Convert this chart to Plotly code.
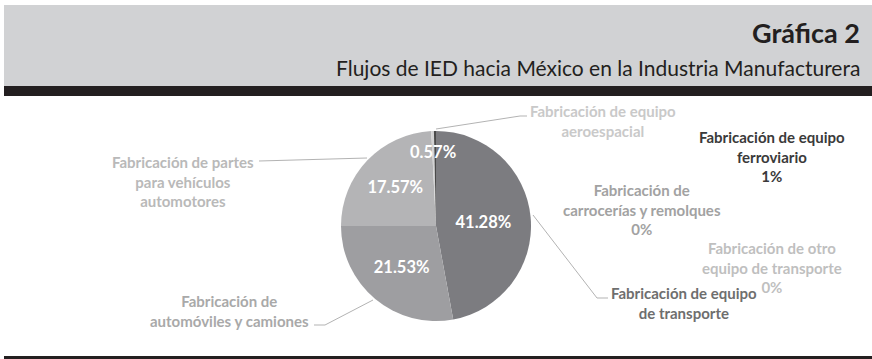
import plotly.graph_objects as go

W, H = 872, 359

# ---- data ----
categories = [
    "Fabricación de equipo de transporte",
    "Fabricación de automóviles y camiones",
    "Fabricación de partes para vehículos automotores",
    "Fabricación de equipo aeroespacial",
    "Fabricación de equipo ferroviario",
    "Fabricación de carrocerías y remolques",
    "Fabricación de otro equipo de transporte",
]
# slice sizes as drawn in the picture (angles), and the printed labels
drawn_share = [47.1, 27.9, 24.2, 0.45, 0.35, 0.0, 0.0]
label_pct = ["41.28%", "21.53%", "17.57%", "0.57%", "1%", "0%", "0%"]
slice_colors = ["#7c7c80", "#9e9ea1", "#b4b4b6", "#d2d2d3", "#4a4a4a", "#a4a4a6", "#c4c4c6"]
label_colors = ["#6e6e6e", "#a9a9a9", "#b9b9b9", "#c9c9c9", "#3a3a3a", "#a2a2a2", "#bfbfbf"]

title = "Gráfica 2"
subtitle = "Flujos de IED hacia México en la Industria Manufacturera"


def px(x):
    return x / W


def py(y):
    return 1 - y / H


cx, cy, r = 436, 226, 95
inside_text = [t if s > 5 else "" for t, s in zip(label_pct, drawn_share)]

fig = go.Figure(go.Pie(
    labels=categories,
    values=drawn_share,
    text=inside_text,
    texttemplate="%{text}",
    textposition="inside",
    insidetextorientation="horizontal",
    insidetextfont=dict(family="Lato", size=16.5, color="white", weight="bold"),
    marker=dict(colors=slice_colors, line=dict(width=0)),
    sort=False,
    direction="clockwise",
    rotation=0,
    showlegend=False,
    hoverinfo="label+text",
    domain=dict(x=[px(cx - r), px(cx + r)], y=[py(cy + r), py(cy - r)]),
))

shapes = [
    dict(type="rect", xref="paper", yref="paper", x0=px(4), x1=1, y0=py(86), y1=py(5),
         fillcolor="#d1d2d4", line=dict(width=0), layer="below"),
    dict(type="rect", xref="paper", yref="paper", x0=px(4), x1=1, y0=py(96), y1=py(86),
         fillcolor="#231f20", line=dict(width=0), layer="below"),
    dict(type="rect", xref="paper", yref="paper", x0=px(4), x1=1, y0=0, y1=py(356),
         fillcolor="#231f20", line=dict(width=0), layer="below"),
]


def leader(points):
    d = "M " + " L ".join(f"{px(a)},{py(b)}" for a, b in points)
    return dict(type="path", xref="paper", yref="paper", path=d,
                line=dict(color="#b3b3b3", width=1))


shapes += [
    leader([(259, 161), (367, 158)]),
    leader([(314, 325), (325, 325), (373, 300)]),
    leader([(436, 129), (520, 116), (527, 116)]),
    leader([(533, 215), (597, 298), (608, 298)]),
]

lbl_font = dict(family="Lato", size=15, weight="bold")
annotations = [
    dict(text=title, x=px(862), y=py(33), xanchor="right", yanchor="middle",
         font=dict(family="Lato", size=27, color="#231f20", weight="bold")),
    dict(text=subtitle, x=px(862), y=py(67), xanchor="right", yanchor="middle",
         font=dict(family="Lato", size=21, color="#231f20")),
    dict(text="Fabricación de partes<br>para vehículos<br>automotores", x=px(183), y=py(181),
         font=dict(lbl_font, color=label_colors[2])),
    dict(text="Fabricación de<br>automóviles y camiones", x=px(230), y=py(311),
         font=dict(lbl_font, color=label_colors[1])),
    dict(text="Fabricación de equipo<br>aeroespacial", x=px(603), y=py(121),
         font=dict(lbl_font, color=label_colors[3])),
    dict(text="Fabricación de equipo<br>ferroviario<br>" + label_pct[4], x=px(772), y=py(156),
         font=dict(lbl_font, color=label_colors[4])),
    dict(text="Fabricación de<br>carrocerías y remolques<br>" + label_pct[5], x=px(642), y=py(209),
         font=dict(lbl_font, color=label_colors[5])),
    dict(text="Fabricación de otro<br>equipo de transporte<br>" + label_pct[6], x=px(772), y=py(267),
         font=dict(lbl_font, color=label_colors[6])),
    dict(text="Fabricación de equipo<br>de transporte", x=px(684), y=py(303),
         font=dict(lbl_font, color=label_colors[0])),
    dict(text=label_pct[3], x=px(433), y=py(152),
         font=dict(family="Lato", size=16.5, color="white", weight="bold")),
]
for a in annotations:
    a.update(xref="paper", yref="paper", showarrow=False)
    a.setdefault("xanchor", "center")
    a.setdefault("yanchor", "middle")

fig.update_layout(
    width=W, height=H,
    margin=dict(l=0, r=0, t=0, b=0),
    paper_bgcolor="white",
    plot_bgcolor="white",
    shapes=shapes,
    annotations=annotations,
)

fig.write_html("out.html")
